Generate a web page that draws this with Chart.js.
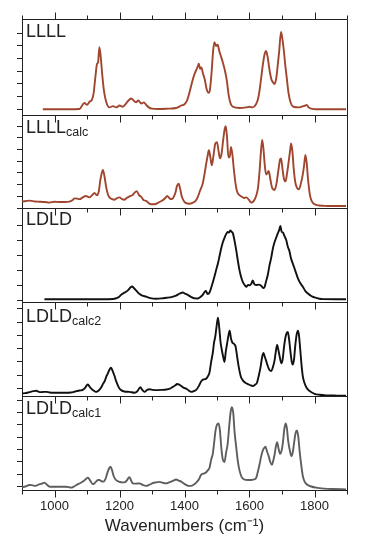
<!DOCTYPE html>
<html>
<head>
<meta charset="utf-8">
<script src="https://cdn.jsdelivr.net/npm/chart.js@4.4.0/dist/chart.umd.min.js"></script>
<style>
html, body { margin: 0; padding: 0; background: #fff; }
#wrap { position: relative; width: 365px; height: 550px; overflow: hidden; }
#wrap canvas { position: absolute; left: 0; }
.lbl { position: absolute; left: 26px; z-index: 5; font-family: 'Liberation Sans', Arial, sans-serif;
       font-size: 18px; line-height: 18px; color: #222; white-space: nowrap; }
.lbl sub { font-size: 12.5px; line-height: 0; vertical-align: -3px; }
</style>
</head>
<body>
<div id="wrap"></div>
<script>
// Stacked IR spectra, one Chart.js chart per panel
(function(window) {
    'use strict';

    // ---- data (wavenumber / intensity) ----
    var llllWn = [964, 1000, 1040, 1077, 1085, 1092, 1100, 1108, 1115, 1120, 1126, 1131, 1134, 1138, 1142, 1147, 1152, 1159, 1169, 1180,
        1190, 1200, 1210, 1220, 1226, 1236, 1245, 1251, 1258, 1267, 1275, 1282, 1290, 1300, 1320, 1350, 1374, 1390, 1400, 1408,
        1415, 1421, 1426, 1431, 1436, 1441, 1444, 1448, 1452, 1457, 1462, 1468, 1474, 1478, 1483, 1488, 1492, 1497, 1502, 1507,
        1512, 1518, 1524, 1530, 1536, 1542, 1549, 1570, 1590, 1600, 1610, 1620, 1626, 1631, 1636, 1641, 1646, 1651, 1656, 1661,
        1667, 1673, 1677, 1682, 1687, 1691, 1697, 1701, 1705, 1710, 1715, 1720, 1727, 1735, 1754, 1765, 1772, 1776, 1782, 1790,
        1805, 1897];
    var llllInt = [0, 0, 0, 0.02, 0.3, 0.5, 0.35, 0.6, 0.75, 1.2, 2.6, 3.6, 3.7, 4.9, 4.2, 2.7, 1.5, 0.6, 0.15, 0.25,
        0.15, 0.3, 0.2, 0.45, 0.65, 0.85, 0.65, 0.55, 0.7, 0.45, 0.55, 0.35, 0.15, 0.05, 0.02, 0.05, 0.1, 0.3, 0.4, 0.7,
        1.3, 1.9, 2.4, 2.8, 3.1, 3.4, 3.6, 3.2, 3.3, 2.8, 2.4, 1.6, 1.3, 1.5, 2.8, 4.6, 5.3, 5.0, 5.1, 4.6,
        4.2, 3.7, 3.1, 2.3, 1.1, 0.45, 0.2, 0.1, 0.15, 0.2, 0.15, 0.4, 0.8, 1.5, 2.5, 3.5, 4.3, 4.6, 4.1, 3.2,
        2.4, 2.1, 2.0, 2.4, 3.5, 4.5, 6.1, 5.6, 4.8, 3.5, 2.4, 1.3, 0.5, 0.2, 0.15, 0.25, 0.3, 0.35, 0.15, 0.05,
        0, 0];

    var llllCalcWn = [900, 923, 940, 954, 970, 985, 1000, 1015, 1030, 1046, 1055, 1062, 1070, 1077, 1087, 1096, 1103, 1108, 1116, 1123,
        1130, 1136, 1141, 1146, 1149, 1154, 1159, 1164, 1169, 1177, 1185, 1193, 1200, 1208, 1215, 1222, 1231, 1240, 1246, 1253,
        1260, 1267, 1275, 1282, 1290, 1297, 1305, 1313, 1323, 1333, 1341, 1347, 1353, 1359, 1365, 1372, 1377, 1382, 1387, 1392,
        1399, 1405, 1415, 1426, 1434, 1441, 1448, 1456, 1462, 1466, 1471, 1475, 1479, 1484, 1489, 1495, 1500, 1505, 1509, 1514,
        1519, 1524, 1527, 1531, 1535, 1539, 1543, 1547, 1552, 1557, 1562, 1569, 1577, 1584, 1590, 1598, 1605, 1612, 1620, 1626,
        1631, 1635, 1639, 1643, 1647, 1651, 1655, 1659, 1664, 1670, 1677, 1683, 1689, 1694, 1697, 1701, 1706, 1711, 1715, 1720,
        1725, 1728, 1732, 1736, 1741, 1747, 1752, 1758, 1764, 1768, 1772, 1776, 1780, 1786, 1792, 1800, 1815, 1840, 1870, 1897];
    var llllCalcInt = [0.43, 0.52, 0.45, 0.43, 0.4, 0.35, 0.42, 0.4, 0.4, 0.43, 0.55, 0.72, 0.7, 0.65, 0.8, 0.93, 0.85, 0.8, 1.0, 1.2,
        1.0, 1.3, 2.3, 3.0, 3.2, 2.6, 1.7, 1.1, 0.8, 0.65, 0.6, 0.75, 0.8, 0.65, 0.6, 0.75, 0.9, 1.0, 1.2, 1.35,
        1.0, 0.85, 0.55, 0.5, 0.3, 0.2, 0.2, 0.25, 0.4, 0.55, 0.75, 0.93, 0.75, 0.65, 0.75, 1.2, 1.8, 2.0, 1.5, 0.85,
        0.45, 0.3, 0.25, 0.35, 0.5, 0.85, 1.4, 2.0, 2.9, 3.6, 4.4, 4.9, 4.4, 3.6, 4.4, 5.5, 5.6, 4.8, 4.2, 4.6,
        5.8, 6.8, 7.0, 6.0, 4.3, 4.3, 5.2, 4.6, 3.2, 2.0, 1.3, 1.0, 0.85, 0.75, 0.8, 0.6, 0.35, 0.45, 0.9, 1.6,
        3.1, 4.7, 5.8, 5.0, 3.6, 2.8, 2.9, 3.1, 2.4, 1.6, 1.45, 2.0, 3.2, 4.1, 4.2, 3.4, 2.4, 2.2, 2.8, 3.8,
        4.9, 5.5, 4.8, 3.3, 2.1, 1.6, 1.5, 2.0, 2.8, 3.6, 4.5, 3.8, 2.4, 1.0, 0.45, 0.2, 0.1, 0.06, 0.05, 0.05];

    var ldldWn = [969, 1000, 1100, 1180, 1190, 1198, 1205, 1212, 1220, 1228, 1234, 1239, 1244, 1251, 1257, 1262, 1270, 1282, 1295, 1313,
        1330, 1344, 1360, 1374, 1385, 1395, 1400, 1410, 1421, 1432, 1441, 1449, 1456, 1462, 1466, 1471, 1477, 1484, 1492, 1498,
        1503, 1508, 1513, 1518, 1523, 1528, 1533, 1537, 1541, 1545, 1549, 1554, 1559, 1564, 1569, 1574, 1579, 1585, 1590, 1596,
        1600, 1606, 1610, 1615, 1620, 1628, 1636, 1642, 1646, 1651, 1656, 1661, 1667, 1672, 1677, 1682, 1687, 1691, 1695, 1699,
        1703, 1708, 1713, 1718, 1723, 1728, 1733, 1741, 1749, 1757, 1764, 1772, 1779, 1790, 1800, 1815, 1826, 1897];
    var ldldInt = [0, 0, 0, 0.02, 0.07, 0.15, 0.3, 0.4, 0.5, 0.65, 0.8, 0.85, 0.75, 0.6, 0.45, 0.35, 0.25, 0.18, 0.08, 0.04,
        0.06, 0.1, 0.15, 0.25, 0.38, 0.45, 0.4, 0.3, 0.15, 0.06, 0.05, 0.15, 0.3, 0.5, 0.55, 0.35, 0.45, 0.9, 1.5, 2.0,
        2.4, 2.9, 3.4, 3.8, 4.1, 4.35, 4.5, 4.45, 4.6, 4.5, 4.4, 3.9, 3.3, 2.6, 1.96, 1.5, 1.18, 0.95, 0.84, 0.95,
        0.93, 1.05, 1.25, 1.0, 0.95, 0.98, 0.9, 0.75, 0.8, 1.2, 1.6, 2.2, 2.8, 3.4, 3.8, 4.1, 4.4, 4.6, 4.9, 4.5,
        4.45, 4.2, 3.95, 3.5, 3.2, 2.7, 2.4, 1.9, 1.4, 1.05, 0.84, 0.55, 0.4, 0.22, 0.13, 0.04, 0.01, 0];

    var ldldCalc2Wn = [900, 910, 923, 935, 944, 952, 959, 967, 975, 985, 1000, 1020, 1036, 1050, 1060, 1067, 1077, 1087, 1094, 1099,
        1103, 1108, 1113, 1120, 1128, 1136, 1144, 1150, 1154, 1160, 1164, 1169, 1174, 1179, 1185, 1190, 1195, 1200, 1205, 1215,
        1231, 1246, 1255, 1264, 1270, 1277, 1285, 1292, 1303, 1313, 1330, 1344, 1355, 1364, 1372, 1377, 1384, 1390, 1398, 1405,
        1413, 1421, 1428, 1436, 1443, 1451, 1458, 1466, 1472, 1477, 1482, 1487, 1491, 1495, 1499, 1503, 1507, 1511, 1515, 1519,
        1523, 1527, 1531, 1535, 1539, 1543, 1547, 1552, 1557, 1562, 1567, 1573, 1579, 1587, 1595, 1603, 1610, 1617, 1623, 1629,
        1634, 1639, 1643, 1647, 1651, 1656, 1661, 1667, 1672, 1677, 1681, 1685, 1689, 1693, 1698, 1702, 1706, 1710, 1714, 1718,
        1722, 1726, 1730, 1733, 1737, 1741, 1745, 1749, 1752, 1756, 1760, 1764, 1769, 1776, 1783, 1792, 1800, 1815, 1836, 1870,
        1897];
    var ldldCalc2Int = [0.18, 0.2, 0.28, 0.35, 0.38, 0.3, 0.28, 0.3, 0.3, 0.25, 0.23, 0.23, 0.23, 0.25, 0.3, 0.35, 0.4, 0.45, 0.6, 0.8,
        0.87, 0.7, 0.55, 0.4, 0.3, 0.4, 0.65, 0.95, 1.1, 1.5, 1.7, 2.0, 2.15, 1.9, 1.5, 1.1, 0.8, 0.55, 0.43, 0.33,
        0.3, 0.23, 0.35, 0.65, 0.45, 0.3, 0.45, 0.5, 0.45, 0.43, 0.45, 0.48, 0.55, 0.68, 0.8, 0.9, 0.85, 0.75, 0.6, 0.55,
        0.4, 0.3, 0.35, 0.45, 0.7, 1.1, 1.25, 1.3, 1.5, 1.8, 2.6, 3.3, 4.1, 4.6, 5.4, 6.0, 5.2, 4.1, 3.5, 3.0,
        2.6, 3.4, 4.0, 4.6, 5.0, 4.4, 4.1, 4.0, 3.8, 3.0, 2.2, 1.5, 1.2, 1.0, 0.9, 0.8, 0.75, 0.85, 1.0, 1.6,
        2.2, 3.0, 3.3, 3.0, 2.7, 2.3, 2.0, 1.9, 2.2, 2.7, 3.4, 3.9, 3.5, 3.0, 2.5, 2.8, 3.7, 4.4, 4.8, 4.9,
        4.3, 3.4, 2.6, 2.4, 2.8, 3.9, 4.7, 5.0, 4.7, 3.6, 2.4, 1.5, 1.0, 0.6, 0.4, 0.25, 0.15, 0.08, 0.03, 0.01,
        0];

    var ldldCalc1Wn = [900, 910, 923, 930, 938, 946, 954, 962, 969, 977, 985, 995, 1005, 1020, 1036, 1051, 1060, 1072, 1080, 1087,
        1095, 1103, 1110, 1118, 1124, 1128, 1134, 1138, 1145, 1151, 1157, 1162, 1167, 1172, 1177, 1182, 1188, 1195, 1200, 1208,
        1215, 1222, 1228, 1231, 1236, 1241, 1250, 1262, 1270, 1282, 1292, 1303, 1313, 1323, 1333, 1344, 1352, 1359, 1366, 1374,
        1382, 1390, 1398, 1405, 1413, 1421, 1428, 1436, 1444, 1451, 1458, 1466, 1472, 1477, 1482, 1487, 1491, 1495, 1500, 1505,
        1509, 1513, 1518, 1523, 1528, 1533, 1538, 1542, 1546, 1550, 1554, 1559, 1564, 1569, 1576, 1584, 1595, 1605, 1613, 1620,
        1626, 1631, 1636, 1641, 1645, 1649, 1654, 1659, 1664, 1669, 1673, 1677, 1681, 1685, 1689, 1694, 1699, 1703, 1707, 1711,
        1715, 1719, 1724, 1729, 1733, 1738, 1742, 1746, 1750, 1754, 1759, 1764, 1770, 1779, 1790, 1805, 1830, 1856, 1897];
    var ldldCalc1Int = [0.23, 0.3, 0.43, 0.42, 0.35, 0.4, 0.5, 0.55, 0.63, 0.45, 0.28, 0.28, 0.28, 0.28, 0.28, 0.2, 0.3, 0.5, 0.6, 0.72,
        0.9, 1.06, 0.8, 0.5, 0.6, 0.72, 0.85, 0.85, 0.75, 0.72, 0.95, 1.4, 1.8, 2.0, 1.7, 1.2, 0.9, 0.75, 0.7, 0.65,
        0.65, 0.8, 1.05, 1.1, 0.8, 0.57, 0.55, 0.57, 0.45, 0.35, 0.45, 0.6, 0.65, 0.7, 0.62, 0.57, 0.65, 0.72, 0.8, 0.9,
        0.8, 0.72, 0.55, 0.43, 0.35, 0.35, 0.45, 0.63, 0.9, 1.3, 1.4, 1.5, 1.7, 1.9, 2.6, 3.1, 4.0, 5.0, 5.6, 5.7,
        5.1, 3.7, 2.6, 2.4, 3.2, 4.0, 5.6, 6.7, 7.1, 6.6, 5.0, 3.7, 2.5, 1.7, 1.1, 0.9, 0.85, 0.85, 0.9, 1.0,
        1.6, 2.2, 2.9, 3.4, 3.6, 3.7, 3.3, 2.9, 2.4, 2.15, 2.5, 3.0, 3.7, 4.1, 3.6, 3.1, 3.4, 4.1, 5.2, 5.7,
        5.3, 4.2, 3.4, 2.9, 3.2, 4.2, 4.9, 5.1, 4.6, 3.4, 2.2, 1.2, 0.7, 0.43, 0.3, 0.2, 0.12, 0.08, 0.05];

    var xTickLabels = [1000, 1200, 1400, 1600, 1800];
    var panelNames = ['LLLL', 'LLLL', 'LDLD', 'LDLD', 'LDLD'];
    var panelSubs = ['', 'calc', '', 'calc2', 'calc1'];
    var xTitle = 'Wavenumbers (cm\u207B\u00B9)';

    // ---- layout / styling ----
    var axisColor = '#222222';
    var fontFamily = "'Liberation Sans', Arial, sans-serif";
    var pad = 9;

    var panels = [
        { wn: llllWn, values: llllInt, color: '#a0452e', top: 19, bottom: 115, min: -0.45, max: 7.13, tickStart: 0, tickStep: 1, tickCount: 7, labelTop: 22 },
        { wn: llllCalcWn, values: llllCalcInt, color: '#a0452e', top: 115, bottom: 208, min: -0.12, max: 7.97, tickStart: -0.12, tickStep: 1.015, tickCount: 8, labelTop: 118 },
        { wn: ldldWn, values: ldldInt, color: '#111111', top: 208, bottom: 302, min: -0.18, max: 6.09, tickStart: -0.05, tickStep: 1, tickCount: 6, labelTop: 210 },
        { wn: ldldCalc2Wn, values: ldldCalc2Int, color: '#111111', top: 302, bottom: 396, min: -0.02, max: 7.21, tickStart: 0.57, tickStep: 1.02, tickCount: 7, labelTop: 307 },
        { wn: ldldCalc1Wn, values: ldldCalc1Int, color: '#5e5e5e', top: 396, bottom: 490, min: 0, max: 8.05, tickStart: 0.28, tickStep: 1.06, tickCount: 8, labelTop: 399 }
    ];

    // top + right edges of each plot box, plus the x tick marks (major long, minor short)
    var framePlugin = {
        id: 'frame',
        afterDraw: function(chart) {
            var a = chart.chartArea;
            var c = chart.ctx;
            var t = Math.round(a.top) + 0.5;
            var b = Math.round(a.bottom) + 0.5;
            var r = Math.round(a.right) + 0.5;
            var xs = chart.scales.x;
            c.save();
            c.strokeStyle = axisColor;
            c.lineWidth = 1;
            c.beginPath();
            c.moveTo(a.left, t);
            c.lineTo(r, t);
            c.lineTo(r, a.bottom);
            xs.ticks.forEach(function(tk) {
                var px = Math.round(xs.getPixelForValue(tk.value)) + 0.5;
                var len = tk.value % 200 === 0 ? 7 : 4;
                c.moveTo(px, b);
                c.lineTo(px, b + len);
                if (chart.options.showTopTicks) {
                    c.moveTo(px, t);
                    c.lineTo(px, t - len);
                }
            });
            c.stroke();
            c.restore();
        }
    };

    function xAxis(height, showLabels) {
        return {
            type: 'linear',
            position: 'bottom',
            min: 900,
            max: 1900,
            afterFit: function(scale) { scale.height = height; },
            grid: { display: false, drawTicks: false },
            border: { color: axisColor, width: 1 },
            ticks: {
                stepSize: 100,
                autoSkip: false,
                maxRotation: 0,
                display: showLabels,
                padding: 9,
                color: '#222',
                font: { family: fontFamily, size: 13 },
                callback: function(v) {
                    return xTickLabels.indexOf(v) >= 0 ? String(v) : '';
                }
            },
            title: {
                display: showLabels,
                text: xTitle,
                color: '#222',
                font: { family: fontFamily, size: 17 },
                padding: { top: 0, bottom: 13 }
            }
        };
    }

    function buildPanel(p, index) {
        var wrap = document.getElementById('wrap');
        var isFirst = index === 0;
        var isLast = index === panels.length - 1;
        var plotH = p.bottom - p.top;
        var canvasTop = p.top - pad;
        var canvasH = isLast ? (550 - canvasTop) : (plotH + 2 * pad);

        var canvas = document.createElement('canvas');
        canvas.width = 365;
        canvas.height = canvasH;
        canvas.style.top = canvasTop + 'px';
        canvas.style.width = '365px';
        canvas.style.height = canvasH + 'px';
        wrap.appendChild(canvas);

        var points = p.wn.map(function(w, i) {
            return { x: w, y: p.values[i] };
        });

        new Chart(canvas.getContext('2d'), {
            type: 'line',
            data: {
                datasets: [{
                    data: points,
                    borderColor: p.color,
                    borderWidth: 1.9,
                    pointRadius: 0,
                    fill: false,
                    cubicInterpolationMode: 'monotone'
                }]
            },
            options: {
                responsive: false,
                animation: false,
                devicePixelRatio: 1,
                showTopTicks: isFirst,
                layout: { padding: { left: 0, right: 18, top: pad, bottom: 0 } },
                scales: {
                    x: xAxis(canvasH - pad - plotH, isLast),
                    y: {
                        min: p.min,
                        max: p.max,
                        afterFit: function(scale) { scale.width = 22; },
                        afterBuildTicks: function(scale) {
                            var t = [];
                            for (var k = 0; k < p.tickCount; k++) {
                                t.push({ value: p.tickStart + k * p.tickStep });
                            }
                            scale.ticks = t;
                        },
                        grid: { drawOnChartArea: false, tickLength: 5, tickColor: axisColor },
                        border: { color: axisColor, width: 1 },
                        ticks: { display: false }
                    }
                },
                plugins: { legend: { display: false }, tooltip: { enabled: false } }
            },
            plugins: [framePlugin]
        });

        var lbl = document.createElement('div');
        lbl.className = 'lbl';
        lbl.style.top = p.labelTop + 'px';
        lbl.innerHTML = panelNames[index] + (panelSubs[index] ? '<sub>' + panelSubs[index] + '</sub>' : '');
        wrap.appendChild(lbl);
    }

    panels.forEach(buildPanel);

})(window);
</script>
</body>
</html>
